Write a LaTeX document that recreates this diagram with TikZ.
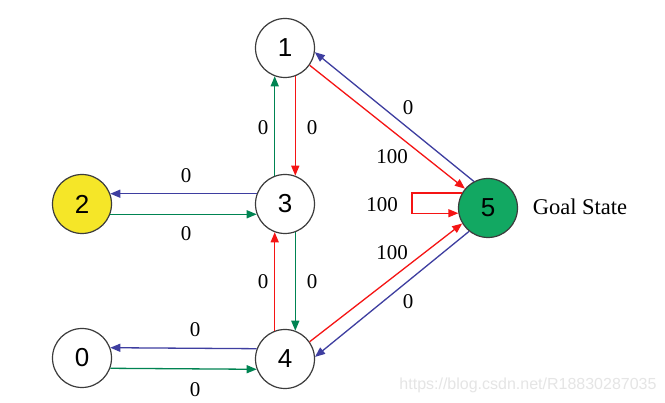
\documentclass[tikz,border=0pt]{standalone}
\usepackage{fontspec}
\setmainfont{Liberation Serif}
\newfontfamily\digitfont{Liberation Sans}
\usetikzlibrary{arrows.meta}
\definecolor{eblue}{RGB}{62,62,160}
\definecolor{egreen}{RGB}{0,132,82}
\definecolor{ered}{RGB}{245,20,20}
\definecolor{yfill}{RGB}{245,230,40}
\definecolor{gfill}{RGB}{18,168,98}
\definecolor{rimc}{RGB}{60,60,60}
\tikzset{
  state/.style={circle, draw=rimc, line width=1.2pt, fill=white, minimum size=59pt, inner sep=0pt, font=\digitfont\fontsize{26}{26}\selectfont},
  edge/.style={line width=1.3pt, -{Triangle[length=10pt,width=8pt]}},
  lbl/.style={font=\fontsize{21}{21}\selectfont, inner sep=0pt},
}
\begin{document}
\begin{tikzpicture}[x=1pt,y=-1pt]
\useasboundingbox (0,0) rectangle (665,403);
\fill[white] (0,0) rectangle (665,403);
% nodes
\node[state] (n1) at (285,48) {1};
\node[state] (n3) at (285,204) {3};
\node[state, fill=yfill] (n2) at (82,204) {2};
\node[state, fill=gfill] (n5) at (488,208) {5};
\node[state] (n0) at (82,358) {0};
\node[state] (n4) at (285,359) {4};
\node[font=\fontsize{22.5}{22.5}\selectfont, inner sep=0pt] (goal) at (580,207) {Goal State};
% 1 <-> 3
\draw[edge, egreen] (n3.110) -- (n1.250);
\draw[edge, ered] (n1.290) -- (n3.70);
% 3 <-> 2
\draw[edge, eblue] (n3.160) -- (n2.20);
\draw[edge, egreen] (n2.340) -- (n3.200);
% 3 <-> 4
\draw[edge, ered] (n4.110) -- (n3.250);
\draw[edge, egreen] (n3.290) -- (n4.70);
% 4 <-> 0
\draw[edge, eblue] (n4.160) -- (n0.20);
\draw[edge, egreen] (n0.340) -- (n4.200);
% 1 <-> 5
\draw[edge, ered] (n1.-35) -- (n5.140);
\draw[edge, eblue] (n5.118) -- (n1.-8);
% 4 <-> 5
\draw[edge, ered] (n4.35) -- (n5.211);
\draw[edge, eblue] (n5.231) -- (n4.4);
% self loop
\draw[edge, ered] (n5.150) -- ++(-50,0) |- (n5.190);
% labels
\node[lbl] (l13a) at (263,128) {0};
\node[lbl] (l13b) at (312,128) {0};
\node[lbl] (l51) at (408,108) {0};
\node[lbl] (l15) at (392,157) {100};
\node[lbl] (l32) at (186,176) {0};
\node[lbl] (l23) at (186,234) {0};
\node[lbl] (l55) at (382,205) {100};
\node[lbl] (l43a) at (263,282) {0};
\node[lbl] (l43b) at (312,282) {0};
\node[lbl] (l45) at (392,253) {100};
\node[lbl] (l54) at (408,302) {0};
\node[lbl] (l40) at (195,330) {0};
\node[lbl] (l04) at (195,390) {0};
% watermark
\node[font=\digitfont\fontsize{16}{16}\selectfont, text=black!10, inner sep=0pt] (wm) at (528,385) {https://blog.csdn.net/R18830287035};
\end{tikzpicture}
\end{document}
